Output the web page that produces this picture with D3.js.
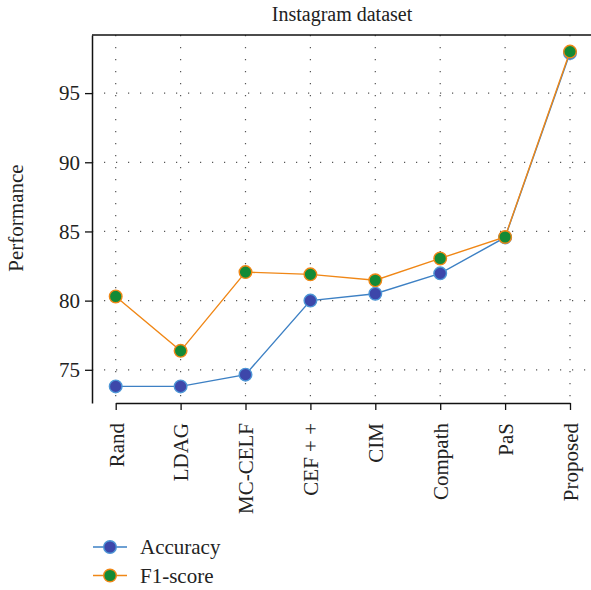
<!DOCTYPE html>
<html>
<head>
<meta charset="utf-8">
<script src="https://cdn.jsdelivr.net/npm/d3@7"></script>
<style>
  body { margin: 0; background: #fff; }
  text { font-family: "Liberation Serif", "DejaVu Serif", serif; fill: #222; }
</style>
</head>
<body>
<div id="chart"></div>
<script>
// chart data
var methods = ['Rand', 'LDAG', 'MC-CELF', 'CEF + +', 'CIM', 'Compath', 'PaS', 'Proposed'];
var accuracy = [73.8, 73.8, 74.65, 80.0, 80.5, 81.97, 84.57, 97.9];
var f1score = [80.3, 76.37, 82.06, 81.9, 81.47, 83.05, 84.6, 98.0];
var yTicks = [75, 80, 85, 90, 95];

document.addEventListener('DOMContentLoaded', function () {
    var width = 591, height = 590;
    var margin = {top: 35, bottom: 187, left: 92, right: 0};
    var innerW = width - margin.left - margin.right;
    var innerH = height - margin.top - margin.bottom;

    var svg = d3.select('#chart').append('svg')
        .attr('width', width)
        .attr('height', height);

    var g = svg.append('g')
        .attr('transform', 'translate(' + margin.left + ',' + margin.top + ')');

    var x = d3.scalePoint().domain(methods).range([23.7, 23.7 + 64.9 * 7]);
    var y = d3.scaleLinear().domain([72.6, 99.2]).range([innerH, 0]);

    // dotted grid
    g.selectAll('.hgrid').data(yTicks).enter().append('line')
        .attr('x1', 0).attr('x2', innerW)
        .attr('y1', d => y(d)).attr('y2', d => y(d))
        .attr('stroke', '#555').attr('stroke-width', 1.2)
        .attr('stroke-dasharray', '1.2,10.8');
    g.selectAll('.vgrid').data(methods).enter().append('line')
        .attr('x1', d => x(d)).attr('x2', d => x(d))
        .attr('y1', 0).attr('y2', innerH)
        .attr('stroke', '#555').attr('stroke-width', 1.2)
        .attr('stroke-dasharray', '1.2,10.8');

    // axes
    var yAxis = g.append('g').call(d3.axisLeft(y).tickValues(yTicks).tickSize(7).tickSizeOuter(0));
    var xAxis = g.append('g').attr('transform', 'translate(0,' + innerH + ')')
        .call(d3.axisBottom(x).tickSize(7).tickSizeOuter(0));
    [xAxis, yAxis].forEach(function (a) {
        a.select('.domain').attr('stroke', '#111').attr('stroke-width', 1.5);
        a.selectAll('.tick line').attr('stroke', '#111').attr('stroke-width', 1.3);
        a.selectAll('text').style('font-family', '"Liberation Serif", serif')
            .style('font-size', '21px').attr('fill', '#222');
    });
    yAxis.selectAll('text').attr('x', -12);
    xAxis.selectAll('text')
        .attr('transform', 'rotate(-90)')
        .attr('text-anchor', 'end')
        .attr('dy', '0.35em')
        .attr('x', -20).attr('y', 0);

    // top border
    g.append('line').attr('x1', 0).attr('x2', innerW).attr('y1', 0).attr('y2', 0)
        .attr('stroke', '#111').attr('stroke-width', 1.5);

    var series = [
        {name: 'Accuracy', values: accuracy, line: '#3d80c4', fill: '#3d47aa', stroke: '#4d96d6'},
        {name: 'F1-score', values: f1score, line: '#f08716', fill: '#138a36', stroke: '#f08716'}
    ];

    var line = d3.line().x((d, i) => x(methods[i])).y(d => y(d));

    series.forEach(function (s) {
        g.append('path').datum(s.values)
            .attr('d', line)
            .attr('fill', 'none')
            .attr('stroke', s.line)
            .attr('stroke-width', 1.4);
        g.selectAll(null).data(s.values).enter().append('circle')
            .attr('cx', (d, i) => x(methods[i]))
            .attr('cy', d => y(d))
            .attr('r', 6.3)
            .attr('fill', s.fill)
            .attr('stroke', s.stroke)
            .attr('stroke-width', 1.4);
    });

    // title and axis label
    svg.append('text').attr('x', 342).attr('y', 21)
        .attr('text-anchor', 'middle').style('font-size', '20px')
        .text('Instagram dataset');
    svg.append('text')
        .attr('transform', 'translate(23,218) rotate(-90)')
        .attr('text-anchor', 'middle').style('font-size', '21px')
        .text('Performance');

    // legend
    var legend = svg.append('g').attr('transform', 'translate(93,547)');
    series.forEach(function (s, i) {
        var row = legend.append('g').attr('transform', 'translate(0,' + (i * 28.5) + ')');
        row.append('line').attr('x1', 0).attr('x2', 34).attr('y1', 0).attr('y2', 0)
            .attr('stroke', s.line).attr('stroke-width', 1.4);
        row.append('circle').attr('cx', 17).attr('cy', 0).attr('r', 6.3)
            .attr('fill', s.fill).attr('stroke', s.stroke).attr('stroke-width', 1.4);
        row.append('text').attr('x', 47).attr('y', 0).attr('dy', '0.35em')
            .style('font-size', '21px').text(s.name);
    });
});
</script>
</body>
</html>
